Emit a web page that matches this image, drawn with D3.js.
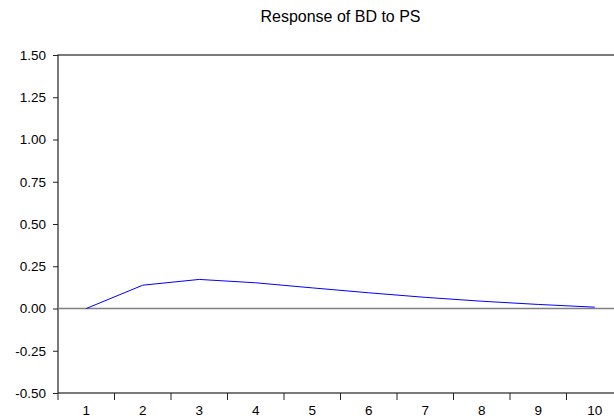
<!DOCTYPE html>
<html>
<head>
<meta charset="utf-8">
<script src="https://cdn.jsdelivr.net/npm/d3@7"></script>
<style>
  body { margin: 0; background: #fff; }
  svg { display: block; font-family: "Liberation Sans", Arial, sans-serif; }
</style>
</head>
<body>
<svg id="chart" width="614" height="419"></svg>
<script>
// values
const periods = [1, 2, 3, 4, 5, 6, 7, 8, 9, 10];
const response = [0.0, 0.138, 0.172, 0.152, 0.122, 0.093, 0.066, 0.043, 0.024, 0.008];
const yTicks = [-0.5, -0.25, 0, 0.25, 0.5, 0.75, 1.0, 1.25, 1.5];
const title = "Response of BD to PS";

const svg = d3.select("#chart");
const margin = { left: 58, top: 55, right: 623, bottom: 393 };

let x = d3.scaleBand().domain(periods).range([margin.left, margin.right]);
let y = d3.scaleLinear().domain([-0.5, 1.5]).range([margin.bottom, margin.top]);

// frame
svg.append("rect")
    .attr("x", margin.left).attr("y", margin.top)
    .attr("width", margin.right - margin.left).attr("height", margin.bottom - margin.top)
    .style("fill", "none").style("stroke", "#222").style("stroke-width", 1.2);

// y axis (plain hyphen for negatives, like the original)
let yAxis = d3.axisLeft(y).tickValues(yTicks).tickFormat(d => d.toFixed(2)).tickSize(5).tickSizeOuter(0);
svg.append("g").attr("transform", `translate(${margin.left},0)`).call(yAxis)
    .call(g => g.select(".domain").remove())
    .call(g => g.selectAll("text").style("font-size", "13.5px").style("fill", "#000").attr("x", -12))
    .call(g => g.selectAll("line").style("stroke", "#222"));

// x axis: ticks at band edges, labels centred in bands
let edges = periods.map(p => x(p)).concat([margin.right]);
svg.append("g").selectAll("line").data(edges).join("line")
    .attr("x1", d => d).attr("x2", d => d)
    .attr("y1", margin.bottom).attr("y2", margin.bottom + 7)
    .style("stroke", "#222");
svg.append("g").selectAll("text").data(periods).join("text")
    .attr("x", d => x(d) + x.bandwidth() / 2)
    .attr("y", 415)
    .attr("text-anchor", "middle")
    .style("font-size", "13.5px")
    .text(d => d);

// zero line
svg.append("line")
    .attr("x1", margin.left).attr("x2", margin.right)
    .attr("y1", y(0)).attr("y2", y(0))
    .style("stroke", "#808080").style("stroke-width", 1.5);

// response line
let line = d3.line().x((d, i) => x(periods[i]) + x.bandwidth() / 2).y(d => y(d));
svg.append("path").datum(response)
    .attr("d", line)
    .style("fill", "none").style("stroke", "#0000ff").style("stroke-width", 1);

// title
svg.append("text")
    .attr("x", (margin.left + margin.right) / 2).attr("y", 22)
    .attr("text-anchor", "middle")
    .style("font-size", "16px")
    .text(title);
</script>
</body>
</html>
